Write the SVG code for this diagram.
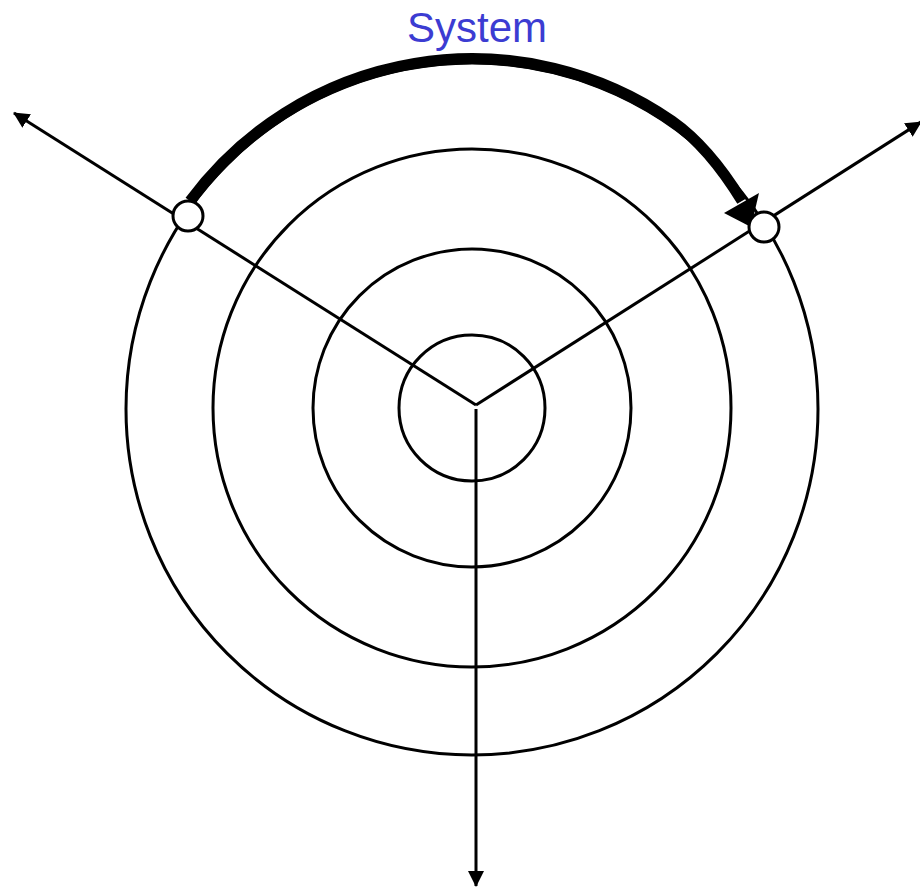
<svg xmlns="http://www.w3.org/2000/svg" width="920" height="888" viewBox="0 0 920 888">
<style>
.ring{fill:none;stroke:#000;stroke-width:3}
.ray{fill:none;stroke:#000;stroke-width:3}
.node{fill:#fff;stroke:#000;stroke-width:3}
.label{font-family:"Liberation Sans",Arial,sans-serif;font-size:42px;fill:#3c3cd2;text-anchor:middle}
</style>
<defs>
<marker id="ah" markerUnits="userSpaceOnUse" markerWidth="16" markerHeight="16" viewBox="0 0 16 16" refX="15" refY="8" orient="auto">
<path d="M0,0 L16,8 L0,16 z" fill="#000"/>
</marker>
</defs>
<rect width="920" height="888" fill="#fff"/>
<g id="rings">
<circle id="ring1" class="ring" cx="472" cy="408" r="73"/>
<circle id="ring2" class="ring" cx="472" cy="408" r="159"/>
<circle id="ring3" class="ring" cx="472" cy="408" r="259"/>
<circle id="ring4" class="ring" cx="472" cy="409" r="346"/>
</g>
<g id="connectors">
<line class="ray" x1="476" y1="405" x2="14" y2="113" marker-end="url(#ah)"/>
<line class="ray" x1="476" y1="405" x2="921" y2="122" marker-end="url(#ah)"/>
<line class="ray" x1="476" y1="409" x2="476" y2="886" marker-end="url(#ah)"/>
<path id="system-arc" d="M190,201 A351,351 0 0 1 672,121 Q709,147 742,201" fill="none" stroke="#000" stroke-width="11"/>
<polygon points="751,227 724,213 759,193" fill="#000"/>
</g>
<g id="node-left">
<circle class="node" cx="188" cy="216" r="15"/>
</g>
<g id="node-right">
<circle class="node" cx="764" cy="227" r="15"/>
</g>
<g id="title">
<text class="label" x="477" y="42">System</text>
</g>
</svg>
